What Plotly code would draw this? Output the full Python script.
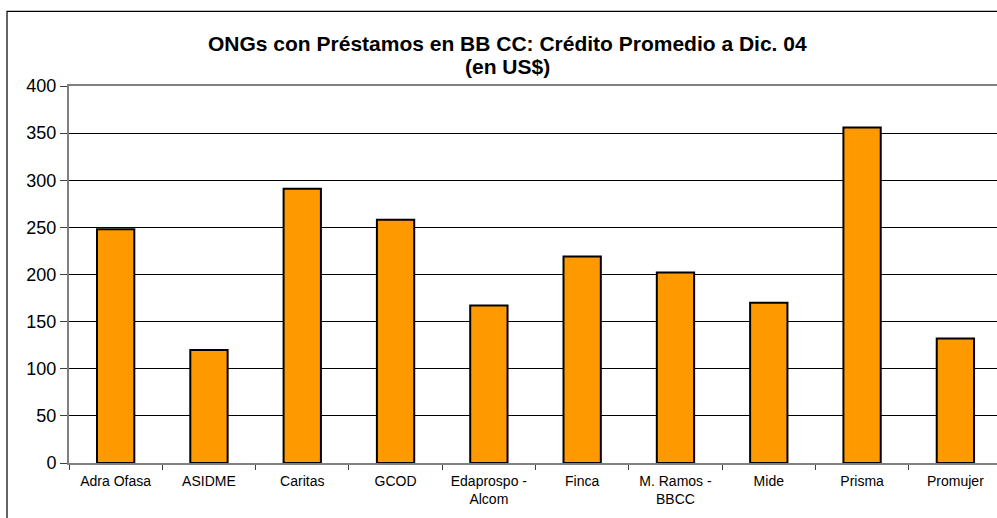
import plotly.graph_objects as go

# ONGs con préstamos: crédito promedio a diciembre 2004 (US$)
ongs = ["Adra Ofasa", "ASIDME", "Caritas", "GCOD", "Edaprospo -<br>Alcom",
        "Finca", "M. Ramos -<br>BBCC", "Mide", "Prisma", "Promujer"]
credito = [248, 120, 291, 258, 167, 219, 202, 170, 356, 132]
y_ticks = [0, 50, 100, 150, 200, 250, 300, 350, 400]
titulo = ["ONGs con Préstamos en BB CC: Crédito Promedio a Dic. 04", "(en US$)"]

font = "Liberation Sans, Arial, sans-serif"

fig = go.Figure(go.Bar(
    x=ongs, y=credito, width=0.4,
    marker=dict(color="#FF9900", line=dict(color="#000000", width=2)),
))

# title as two annotations so line spacing matches
for txt, yy in zip(titulo, [1.113, 1.051]):
    fig.add_annotation(text="<b>" + txt + "</b>", xref="paper", yref="paper",
                       x=0.4725, y=yy, xanchor="center", yanchor="middle",
                       showarrow=False, font=dict(size=21, family=font, color="black"))

fig.update_layout(
    width=997, height=518,
    margin=dict(l=69, r=0, t=86, b=55),
    paper_bgcolor="white", plot_bgcolor="white",
    showlegend=False,
    font=dict(family=font, color="black"),
    # chart area border
    shapes=[dict(type="rect", xref="paper", yref="paper",
                 x0=-0.0668, x1=1.05, y0=-0.2, y1=1.198,
                 line=dict(color="black", width=1.2), fillcolor="rgba(0,0,0,0)",
                 layer="below")],
)

fig.update_xaxes(
    range=[-0.5, 9.446],
    showline=True, linecolor="#808080", linewidth=2, mirror=True,
    ticks="outside", ticklen=5, tickcolor="#404040", tickson="boundaries",
    tickfont=dict(size=14, family=font, color="black"),
    ticklabelstandoff=4,
    showgrid=False, tickangle=0,
)
fig.update_yaxes(
    range=[0, 400], tickvals=y_ticks,
    showline=True, linecolor="#808080", linewidth=2,
    ticks="outside", ticklen=7, tickcolor="#404040",
    showgrid=True, gridcolor="black", gridwidth=1,
    tickfont=dict(size=18, family=font, color="black"),
    zeroline=False,
)

fig.write_html("out.html", config={"displayModeBar": False},
               post_script="document.body.style.margin='0';")
